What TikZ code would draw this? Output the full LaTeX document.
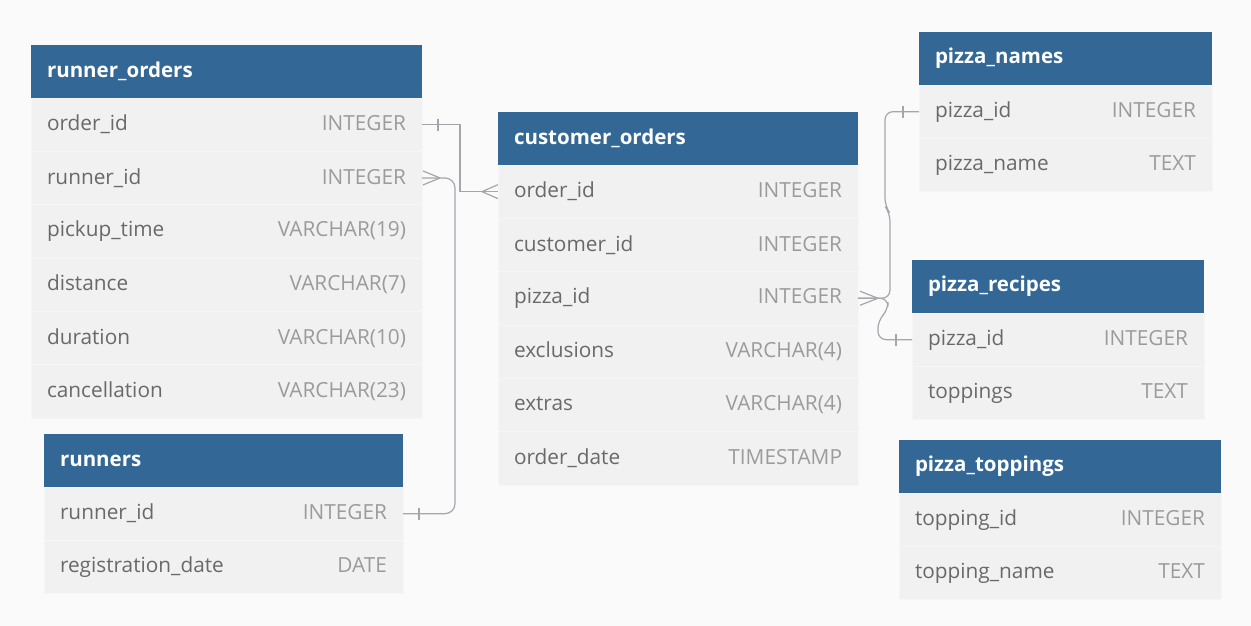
\documentclass[tikz,border=0pt]{standalone}
\usepackage{fontspec}
\setmainfont{Open Sans}
\usepackage{tikz}
\usetikzlibrary{positioning,calc}
\definecolor{hdrblue}{RGB}{50,103,150}
\definecolor{rowgray}{RGB}{241,241,241}
\definecolor{sepgray}{RGB}{246,246,246}
\definecolor{namegray}{RGB}{105,105,105}
\definecolor{typegray}{RGB}{155,155,155}
\definecolor{linkgray}{RGB}{165,165,172}
\definecolor{bggray}{RGB}{250,250,250}

\begin{document}
\begin{tikzpicture}[x=1pt,y=-1pt,
  hdr/.style={fill=hdrblue,text=white,font=\fontsize{20.5}{24}\selectfont\bfseries,text width=#1,inner xsep=16pt,inner ysep=0pt,outer sep=0pt,minimum height=53pt,align=left,anchor=north west},
  row/.style={fill=rowgray,draw=sepgray,text=namegray,font=\fontsize{20.8}{24}\selectfont,text width=#1,inner xsep=16pt,inner ysep=0pt,outer sep=0pt,minimum height=53.3pt,align=left},
  conn/.style={draw=linkgray,line width=1.2pt},
 ]

\fill[bggray] (0,0) rectangle (1251,626);
\useasboundingbox (0,0) rectangle (1251,626);

% runner_orders
\node[hdr=359pt] (ro) at (31,45) {runner\_orders};
\node[row=359pt, below=0pt of ro] (ro1) {order\_id\hfill\textcolor{typegray}{INTEGER}};
 \node[row=359pt, below=0pt of ro1] (ro2) {runner\_id\hfill\textcolor{typegray}{INTEGER}};
 \node[row=359pt, below=0pt of ro2] (ro3) {pickup\_time\hfill\textcolor{typegray}{VARCHAR(19)}};
 \node[row=359pt, below=0pt of ro3] (ro4) {distance\hfill\textcolor{typegray}{VARCHAR(7)}};
 \node[row=359pt, below=0pt of ro4] (ro5) {duration\hfill\textcolor{typegray}{VARCHAR(10)}};
 \node[row=359pt, below=0pt of ro5] (ro6) {cancellation\hfill\textcolor{typegray}{VARCHAR(23)}};

% runners
\node[hdr=327pt] (rn) at (44,434) {runners};
\node[row=327pt, below=0pt of rn] (rn1) {runner\_id\hfill\textcolor{typegray}{INTEGER}};
 \node[row=327pt, below=0pt of rn1] (rn2) {registration\_date\hfill\textcolor{typegray}{DATE}};

% customer_orders
\node[hdr=328pt] (co) at (498,112) {customer\_orders};
\node[row=328pt, below=0pt of co] (co1) {order\_id\hfill\textcolor{typegray}{INTEGER}};
 \node[row=328pt, below=0pt of co1] (co2) {customer\_id\hfill\textcolor{typegray}{INTEGER}};
 \node[row=328pt, below=0pt of co2] (co3) {pizza\_id\hfill\textcolor{typegray}{INTEGER}};
 \node[row=328pt, below=0pt of co3] (co4) {exclusions\hfill\textcolor{typegray}{VARCHAR(4)}};
 \node[row=328pt, below=0pt of co4] (co5) {extras\hfill\textcolor{typegray}{VARCHAR(4)}};
 \node[row=328pt, below=0pt of co5] (co6) {order\_date\hfill\textcolor{typegray}{TIMESTAMP}};

% pizza_names
\node[hdr=261pt] (pn) at (919,32) {pizza\_names};
\node[row=261pt, below=0pt of pn] (pn1) {pizza\_id\hfill\textcolor{typegray}{INTEGER}};
 \node[row=261pt, below=0pt of pn1] (pn2) {pizza\_name\hfill\textcolor{typegray}{TEXT}};

% pizza_recipes
\node[hdr=260pt] (pr) at (912,260) {pizza\_recipes};
\node[row=260pt, below=0pt of pr] (pr1) {pizza\_id\hfill\textcolor{typegray}{INTEGER}};
 \node[row=260pt, below=0pt of pr1] (pr2) {toppings\hfill\textcolor{typegray}{TEXT}};

% pizza_toppings
\node[hdr=290pt] (pt) at (899,440) {pizza\_toppings};
\node[row=290pt, below=0pt of pt] (pt1) {topping\_id\hfill\textcolor{typegray}{INTEGER}};
 \node[row=290pt, below=0pt of pt1] (pt2) {topping\_name\hfill\textcolor{typegray}{TEXT}};

% links
\draw[conn] (ro1.east) -- ++(38,0) |- (co1.west);
\draw[conn] ($(ro1.east)+(16,-6)$) -- ++(0,12);
\draw[conn] ($(co1.west)+(-16,0)$) -- ($(co1.west)+(0,-7)$)
 ($(co1.west)+(-16,0)$) -- ($(co1.west)+(0,7)$);

\draw[conn,rounded corners=10pt] (ro2.east) -- ++(33,0) |- (rn1.east);
\draw[conn] ($(ro2.east)+(18,0)$) -- ($(ro2.east)+(1,-7)$)
 ($(ro2.east)+(18,0)$) -- ($(ro2.east)+(1,7)$);
\draw[conn] ($(rn1.east)+(16,-6)$) -- ++(0,12);

\draw[conn,rounded corners=8pt] (co3.east) -- ++(32,0) -- ++(0,-85) -- ++(-5,-7) |- (pn1.west);
\draw[conn,rounded corners=8pt] (co3.east) -- ++(30,0) -- ++(0,12) -- ++(-10,10) |- (pr1.west);
\draw[conn] ($(co3.east)+(20,0)$) -- ($(co3.east)+(2,-7)$)
 ($(co3.east)+(20,0)$) -- ($(co3.east)+(2,7)$);
\draw[conn] ($(pn1.west)+(-16,-6)$) -- ++(0,12);
\draw[conn] ($(pr1.west)+(-16,-6)$) -- ++(0,12);

\end{tikzpicture}
\end{document}
